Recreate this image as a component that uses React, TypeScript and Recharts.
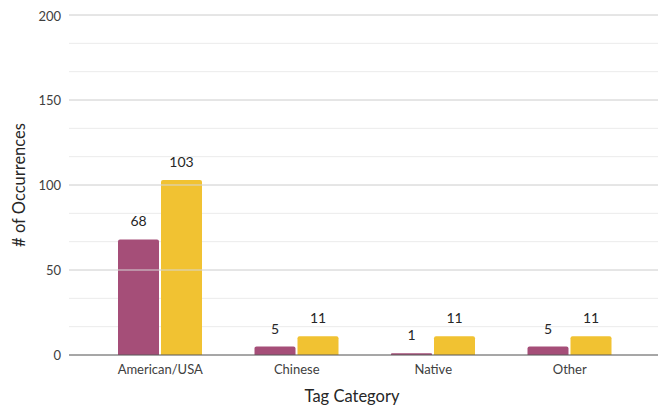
import React from "react";
import {
  BarChart,
  Bar,
  XAxis,
  YAxis,
  CartesianGrid,
  ReferenceLine,
  LabelList,
  Label,
} from "recharts";

const categories = ["American/USA", "Chinese", "Native", "Other"];
const firstSeries = [68, 5, 1, 5];
const secondSeries = [103, 11, 11, 11];
const majorTicks = [0, 50, 100, 150, 200];
const minorTicks = [
  0, 50 / 3, 100 / 3, 50, 200 / 3, 250 / 3, 100, 350 / 3, 400 / 3, 150,
  500 / 3, 550 / 3, 200,
];

const PURPLE = "#a54e78";
const YELLOW = "#f1c232";
const FONT = "Lato, 'Open Sans', sans-serif";

export default function App() {
  const data = categories.map((name, i) => ({
    name,
    first: firstSeries[i],
    second: secondSeries[i],
  }));

  return (
    <div style={{ fontFamily: FONT }}>
      <BarChart
        width={658}
        height={400}
        data={data}
        margin={{ top: 7, right: 5, bottom: 0, left: 0 }}
        barGap={2}
        barSize={41}
      >
        <CartesianGrid
          vertical={false}
          horizontalValues={minorTicks}
          stroke="#ebebeb"
        />
        {majorTicks.slice(1).map((v) => (
          <ReferenceLine key={v} y={v} stroke="#d6d6d6" />
        ))}
        <XAxis
          dataKey="name"
          height={53}
          padding={{ left: 23, right: 23 }}
          tickLine={false}
          axisLine={{ stroke: "#595959" }}
          tick={{ fontSize: 13, fill: "#404040", fontFamily: FONT }}
          tickMargin={4}
        >
          <Label
            value="Tag Category"
            position="insideBottom"
            offset={6}
            dx={-13}
            style={{ fontSize: 16.5, fill: "#262626", fontFamily: FONT }}
          />
        </XAxis>
        <YAxis
          width={61}
          domain={[0, 200]}
          ticks={majorTicks}
          tickLine={false}
          axisLine={false}
          tick={{ fontSize: 13, fill: "#404040", fontFamily: FONT }}
          tickMargin={2}
        >
          <Label
            value="# of Occurrences"
            angle={-90}
            position="insideLeft"
            offset={11}
            style={{
              fontSize: 16.5,
              fill: "#262626",
              fontFamily: FONT,
              textAnchor: "middle",
            }}
          />
        </YAxis>
        <Bar
          dataKey="first"
          fill={PURPLE}
          radius={[2, 2, 0, 0]}
          isAnimationActive={false}
        >
          <LabelList
            dataKey="first"
            position="top"
            offset={13}
            style={{ fontSize: 14, fill: "#262626", fontFamily: FONT }}
          />
        </Bar>
        <Bar
          dataKey="second"
          fill={YELLOW}
          radius={[2, 2, 0, 0]}
          isAnimationActive={false}
        >
          <LabelList
            dataKey="second"
            position="top"
            offset={13}
            style={{ fontSize: 14, fill: "#262626", fontFamily: FONT }}
          />
        </Bar>
      </BarChart>
    </div>
  );
}
